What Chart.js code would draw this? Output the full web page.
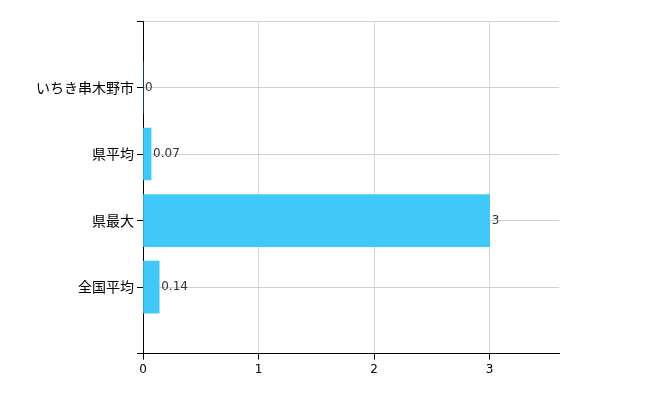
<!DOCTYPE html>
<html lang="ja">
<head>
<meta charset="UTF-8">
<title>chart</title>
<script src="https://cdn.jsdelivr.net/npm/chart.js@4"></script>
<style>
body { margin: 0; background: #fff; }
#wrap { width: 650px; height: 400px; }
</style>
</head>
<body>
<div id="wrap"><canvas id="chart"></canvas></div>
<script>
const categories = ['', 'いちき串木野市', '県平均', '県最大', '全国平均', ''];
const values = [null, 0, 0.07, 3, 0.14, null];
const xTicks = [0, 1, 2, 3];

const valueLabels = {
  id: 'valueLabels',
  afterDatasetsDraw(chart) {
    const ctx = chart.ctx;
    const meta = chart.getDatasetMeta(0);
    ctx.save();
    ctx.font = '12px "DejaVu Sans", sans-serif';
    ctx.textBaseline = 'middle';
    meta.data.forEach((bar, i) => {
      if (values[i] === null) return;
      ctx.fillStyle = '#333';
      ctx.fillText(String(values[i]), bar.x + 2, bar.y);
    });
    ctx.restore();
  }
};

new Chart(document.getElementById('chart'), {
  type: 'bar',
  data: {
    labels: categories,
    datasets: [{
      data: values,
      backgroundColor: '#40c8f8',
      barThickness: 52
    }]
  },
  options: {
    indexAxis: 'y',
    responsive: true,
    maintainAspectRatio: false,
    animation: false,
    layout: { padding: { top: 21, right: 91, bottom: 20, left: 0 } },
    plugins: { legend: { display: false }, tooltip: { enabled: false } },
    scales: {
      x: {
        min: 0, max: 3.6,
        afterBuildTicks: s => { s.ticks = xTicks.map(v => ({ value: v })); },
        grid: { color: '#d8d8d8', tickColor: '#000', tickLength: 6 },
        border: { color: '#000', width: 1 },
        ticks: { color: '#000', font: { size: 12, family: 'DejaVu Sans' } }
      },
      y: {
        offset: false,
        afterFit: s => { s.width = 143; },
        grid: { offset: false, color: '#d0d0d0', tickColor: '#000', tickLength: 6 },
        border: { color: '#000', width: 1 },
        ticks: { color: '#000', autoSkip: false, font: { size: 14, family: 'Noto Sans CJK JP' } }
      }
    }
  },
  plugins: [valueLabels]
});
</script>
</body>
</html>
